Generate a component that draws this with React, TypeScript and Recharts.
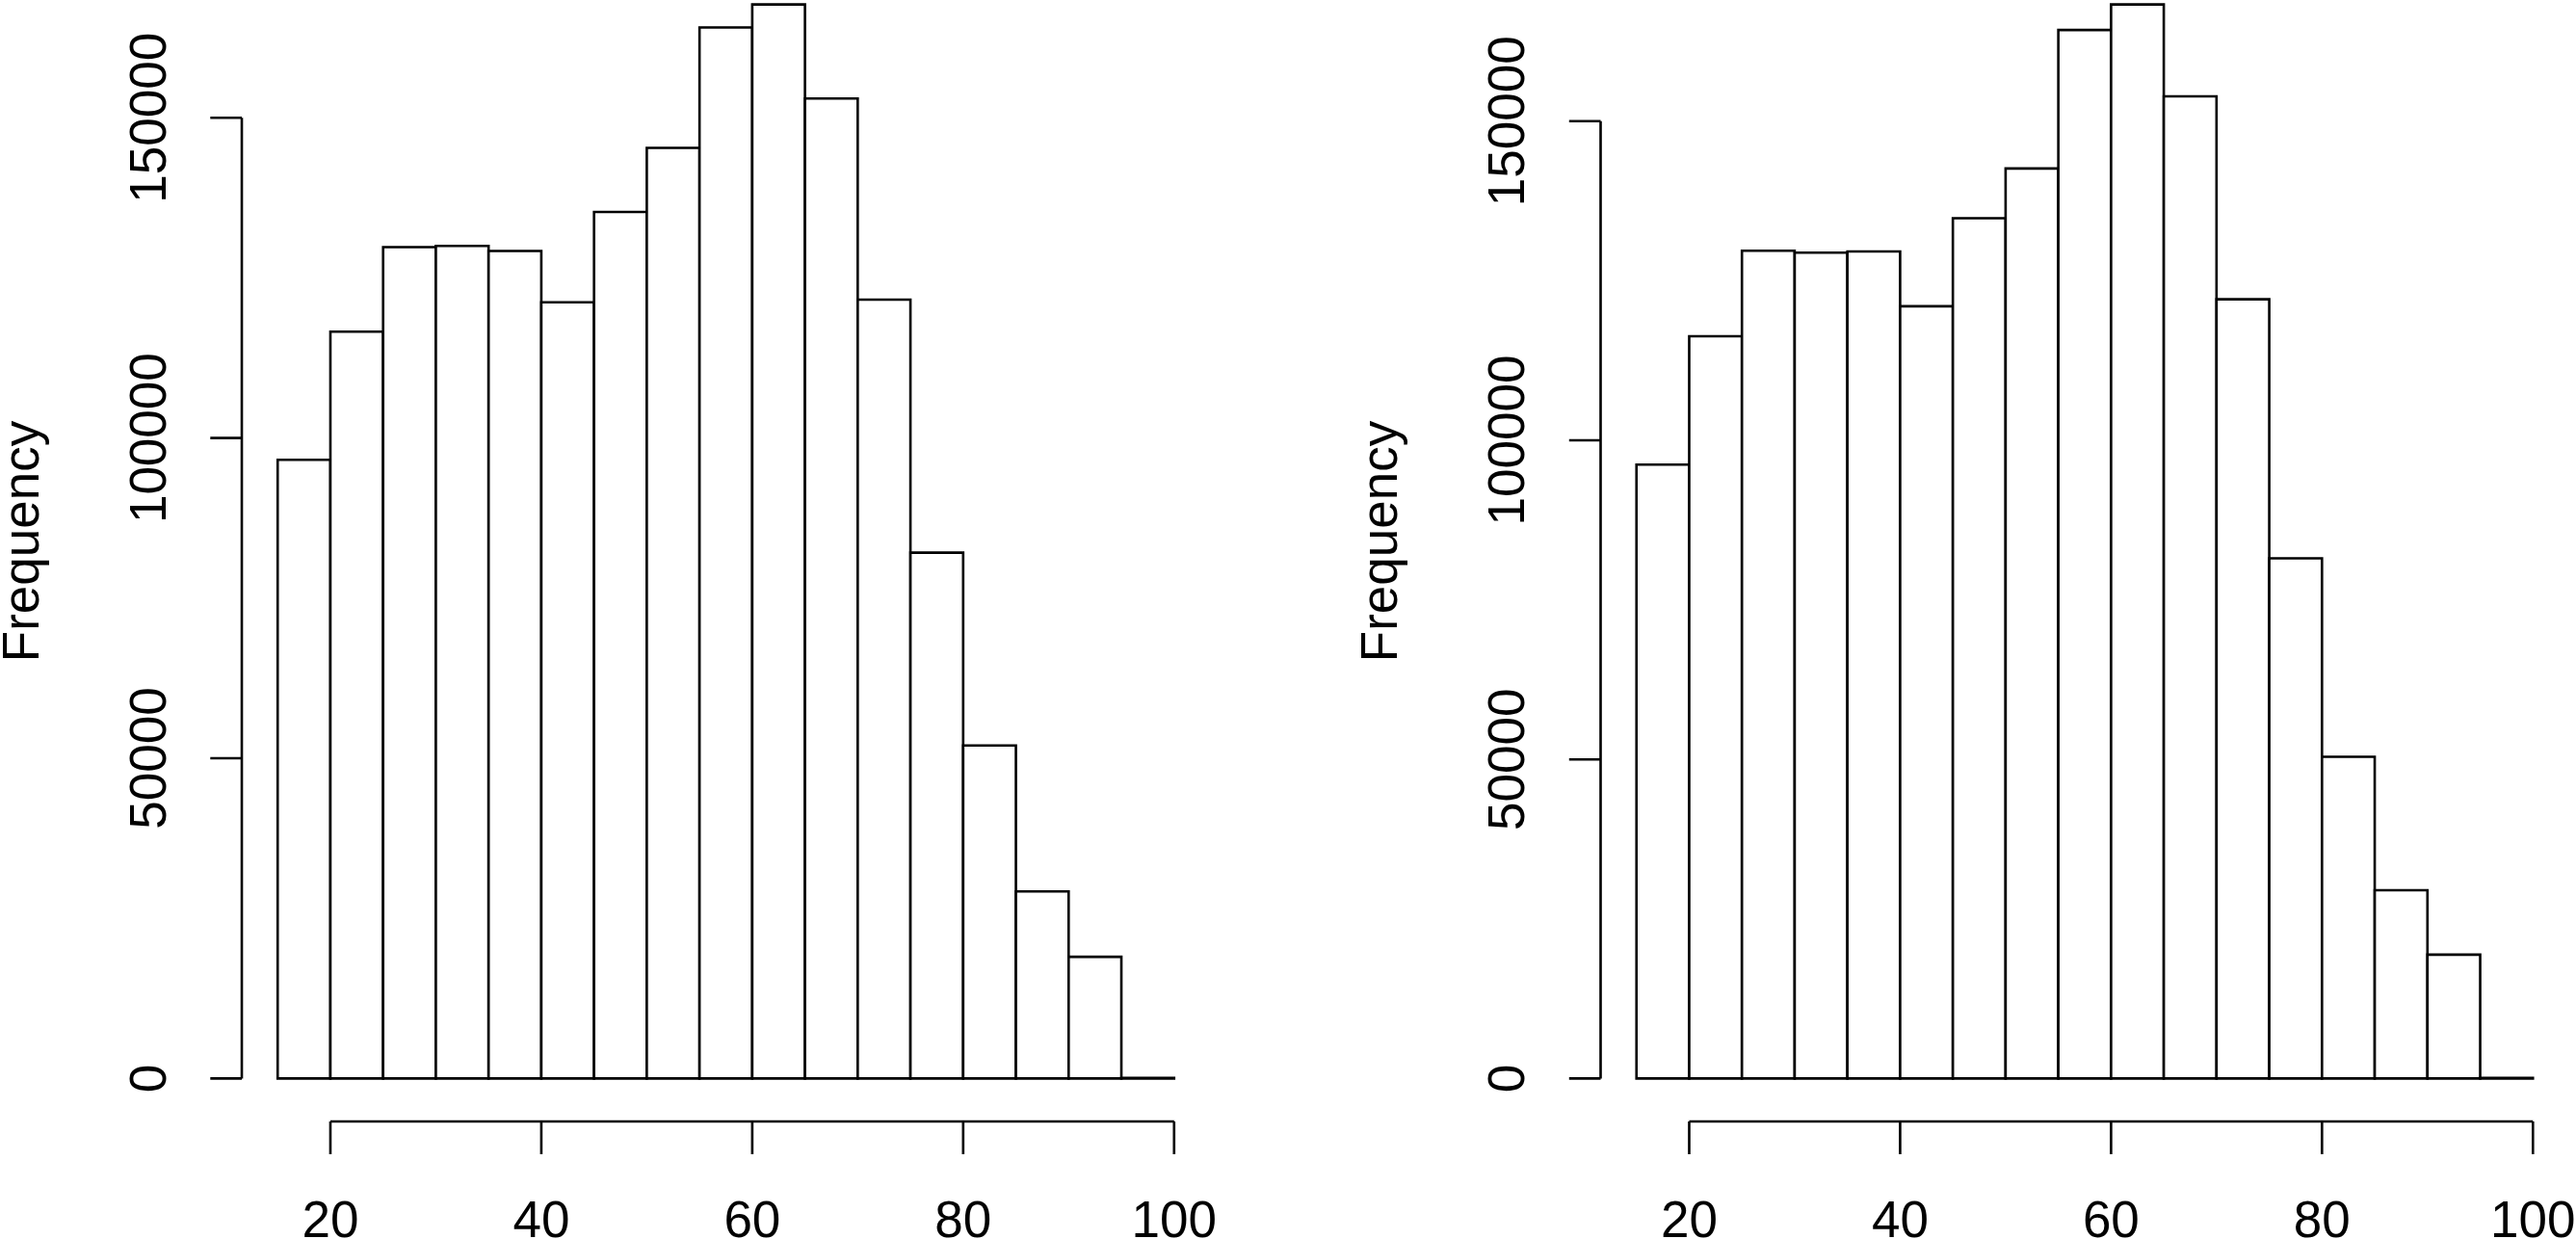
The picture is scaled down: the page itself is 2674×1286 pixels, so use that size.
import React from 'react';
import { BarChart, Bar, XAxis, YAxis, ReferenceLine } from 'recharts';

// ---- data ----
const binStarts = [15, 20, 25, 30, 35, 40, 45, 50, 55, 60, 65, 70, 75, 80, 85, 90, 95];
const binWidth = 5;
const leftCounts = [96600, 116600, 129800, 130000, 129200, 121200, 135300, 145300, 164100, 167700, 153000, 121600, 82100, 52000, 29200, 19000, 100];
const rightCounts = [96200, 116300, 129700, 129400, 129600, 121000, 134800, 142600, 164300, 168300, 153900, 122100, 81500, 50400, 29500, 19400, 100];
const xTicks = [20, 40, 60, 80, 100];
const yTicks = [0, 50000, 100000, 150000];
const yLabelText = 'Frequency';

// ---- style / layout ----
const FONT = '"Liberation Sans", Arial, Helvetica, sans-serif';
const FONT_SIZE = 53;
const LINE = 2.6;
const INK = '#000';

const PANEL_W = 1337;
const CHART_H = 1326.5;
const CHART_TOP = -40.5;
const PLOT_W = 1005;
const X_AXIS_H = 122.5;
const Y_TICK = 32.7;
const X_TICK = 34;
const Y_TICK_MARGIN = 46.3;
const X_TICK_MARGIN = 85.5;
const Y_LABEL_GAP = 211.5;

const YTick = (props: any) => {
  const { x, y, payload } = props;
  return (
    <text
      x={x}
      y={y}
      transform={`rotate(-90, ${x}, ${y})`}
      textAnchor="middle"
      fontFamily={FONT}
      fontSize={FONT_SIZE}
      fill={INK}
    >
      {payload.value}
    </text>
  );
};

const XTick = (props: any) => {
  const { x, y, payload } = props;
  return (
    <text x={x} y={y} textAnchor="middle" fontFamily={FONT} fontSize={FONT_SIZE} fill={INK}>
      {payload.value}
    </text>
  );
};

const YLabel = (props: any) => {
  const vb = props.viewBox || { x: 0, y: 0, width: 0, height: 0 };
  const x = vb.x + vb.width - Y_LABEL_GAP;
  const y = vb.y + vb.height / 2;
  return (
    <text
      x={x}
      y={y}
      transform={`rotate(-90, ${x}, ${y})`}
      textAnchor="middle"
      fontFamily={FONT}
      fontSize={FONT_SIZE}
      fill={INK}
    >
      {yLabelText}
    </text>
  );
};

function Histogram({ counts, axisWidth, rightMargin }: { counts: number[]; axisWidth: number; rightMargin: number }) {
  const data = binStarts.map((s, i) => ({ mid: s + binWidth / 2, count: counts[i] }));
  const lo = binStarts[0];
  const hi = binStarts[binStarts.length - 1] + binWidth;
  const xPad = 0.04 * (hi - lo);
  const xDomain: [number, number] = [lo - xPad, hi + xPad];
  const maxC = Math.max(...counts);
  const yDomain: [number, number] = [-0.04 * maxC, 1.04 * maxC];
  // a hair under the band width so Recharts does not fall back to 90% bars
  const barPx = (binWidth * PLOT_W) / (xDomain[1] - xDomain[0]) - 0.01;

  return (
    <BarChart
      width={PANEL_W}
      height={CHART_H}
      data={data}
      margin={{ top: 0, right: rightMargin, bottom: 0, left: 0 }}
      barCategoryGap={0}
      barGap={0}
    >
      <XAxis
        type="number"
        dataKey="mid"
        domain={xDomain}
        ticks={xTicks}
        height={X_AXIS_H}
        axisLine={false}
        tickLine={{ stroke: INK, strokeWidth: LINE }}
        tickSize={X_TICK}
        tickMargin={X_TICK_MARGIN}
        tick={<XTick />}
        interval={0}
        allowDataOverflow
      />
      <YAxis
        type="number"
        domain={yDomain}
        ticks={yTicks}
        width={axisWidth}
        axisLine={false}
        tickLine={{ stroke: INK, strokeWidth: LINE }}
        tickSize={Y_TICK}
        tickMargin={Y_TICK_MARGIN}
        tick={<YTick />}
        interval={0}
        allowDataOverflow
        label={<YLabel />}
      />
      <Bar
        dataKey="count"
        fill="#ffffff"
        stroke={INK}
        strokeWidth={LINE}
        barSize={barPx}
        isAnimationActive={false}
      />
      <ReferenceLine
        segment={[
          { x: xDomain[0], y: yTicks[0] },
          { x: xDomain[0], y: yTicks[yTicks.length - 1] },
        ]}
        stroke={INK}
        strokeWidth={LINE}
        ifOverflow="visible"
      />
      <ReferenceLine
        segment={[
          { x: xTicks[0], y: yDomain[0] },
          { x: xTicks[xTicks.length - 1], y: yDomain[0] },
        ]}
        stroke={INK}
        strokeWidth={LINE}
        ifOverflow="visible"
      />
    </BarChart>
  );
}

export default function App() {
  return (
    <div
      style={{
        position: 'absolute',
        left: 0,
        top: 0,
        width: 2674,
        height: 1286,
        overflow: 'hidden',
        background: '#ffffff',
      }}
    >
      <div style={{ position: 'absolute', left: 0, top: CHART_TOP }}>
        <Histogram counts={leftCounts} axisWidth={251} rightMargin={81} />
      </div>
      <div style={{ position: 'absolute', left: PANEL_W, top: CHART_TOP }}>
        <Histogram counts={rightCounts} axisWidth={324.5} rightMargin={7.5} />
      </div>
    </div>
  );
}
